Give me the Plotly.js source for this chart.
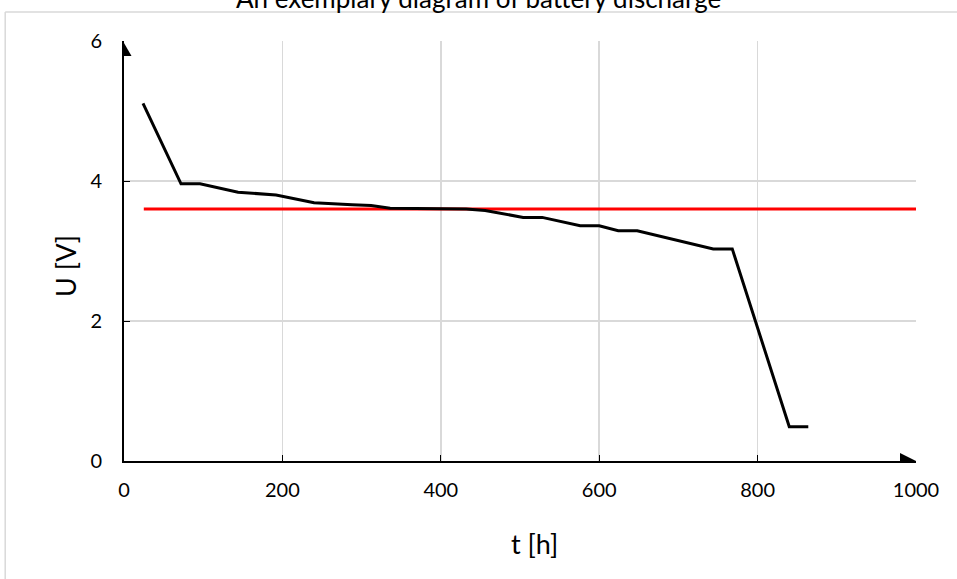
<!DOCTYPE html>
<html>
<head>
<meta charset="utf-8">
<script src="https://cdn.plot.ly/plotly-3.0.1.min.js"></script>
<style>html,body{margin:0;padding:0;background:#fff;}#chart{width:957px;height:579px;}</style>
</head>
<body>
<div id="chart"></div>
<script>
// Discharge curve
const timeH = [24, 72, 96, 144, 192, 240, 288, 312, 336, 384, 432, 456, 504, 528, 576, 600, 624, 648, 696, 744, 768, 840, 864];
const voltageV = [5.11, 3.96, 3.96, 3.84, 3.80, 3.69, 3.66, 3.65, 3.61, 3.61, 3.60, 3.58, 3.48, 3.48, 3.36, 3.36, 3.29, 3.29, 3.16, 3.03, 3.03, 0.49, 0.49];
// Threshold line
const thresholdT = [25, 1000];
const thresholdU = [3.6, 3.6];
const xTicks = [0, 200, 400, 600, 800, 1000];
const yTicks = [0, 2, 4, 6];

const font = "Lato, 'Open Sans', sans-serif";

const traces = [
  {x: thresholdT, y: thresholdU, mode: 'lines', line: {color: '#ff0000', width: 3}, hoverinfo: 'skip'},
  {x: timeH, y: voltageV, mode: 'lines', line: {color: '#000000', width: 3}}
];

const layout = {
  width: 957, height: 579,
  margin: {l: 124, r: 41, t: 41, b: 118},
  paper_bgcolor: '#ffffff', plot_bgcolor: '#ffffff',
  showlegend: false,
  font: {family: font, color: '#000'},
  xaxis: {
    range: [0, 1000], tickvals: xTicks, ticktext: xTicks.map(String),
    showgrid: true, gridcolor: '#d9d9d9', gridwidth: 1.5, zeroline: false,
    showline: true, linecolor: '#000', linewidth: 2,
    ticks: 'inside', ticklen: 6, tickcolor: '#000', tickwidth: 1,
    tickfont: {size: 20, family: font}, ticklabelstandoff: 10,
    fixedrange: true
  },
  yaxis: {
    range: [0, 6], tickvals: yTicks, ticktext: yTicks.map(String),
    showgrid: true, gridcolor: '#d9d9d9', gridwidth: 1.5, zeroline: false,
    showline: true, linecolor: '#000', linewidth: 2,
    ticks: 'inside', ticklen: 6, tickcolor: '#000', tickwidth: 1,
    tickfont: {size: 20, family: font}, ticklabelstandoff: 16,
    fixedrange: true
  },
  annotations: [
    {text: 'An exemplary diagram of battery discharge', xref: 'paper', yref: 'paper',
     x: 0.447, y: 1.102, xanchor: 'center', yanchor: 'middle', showarrow: false,
     font: {size: 26, family: font, color: '#000'}},
    {text: 'U [V]', xref: 'paper', yref: 'paper', x: -0.0745, y: 0.464,
     xanchor: 'center', yanchor: 'middle', textangle: -90, showarrow: false,
     font: {size: 27, family: font, color: '#000'}},
    {text: 't [h]', xref: 'paper', yref: 'paper', x: 0.5177, y: -0.1976,
     xanchor: 'center', yanchor: 'middle', showarrow: false,
     font: {size: 27, family: font, color: '#000'}}
  ],
  shapes: [
    // chart-area border (top & left)
    {type: 'line', xref: 'paper', yref: 'paper', x0: -0.150, x1: 1.1, y0: 1.069, y1: 1.069, line: {color: '#d9d9d9', width: 1.5}, layer: 'below'},
    {type: 'line', xref: 'paper', yref: 'paper', x0: -0.150, x1: -0.150, y0: 1.069, y1: -0.4, line: {color: '#d9d9d9', width: 1.5}, layer: 'below'},
    // arrowheads
    {type: 'path', xref: 'x', yref: 'y', xsizemode: 'pixel', ysizemode: 'pixel', xanchor: 0, yanchor: 6,
     path: 'M0,-2 L-7.5,-15 L7.5,-15 Z', fillcolor: '#000', line: {width: 0}},
    {type: 'path', xref: 'x', yref: 'y', xsizemode: 'pixel', ysizemode: 'pixel', xanchor: 1000, yanchor: 0,
     path: 'M0,0 L-16,8 L-16,-8 Z', fillcolor: '#000', line: {width: 0}}
  ]
};

Plotly.newPlot('chart', traces, layout, {displayModeBar: false, staticPlot: true});
</script>
</body>
</html>
